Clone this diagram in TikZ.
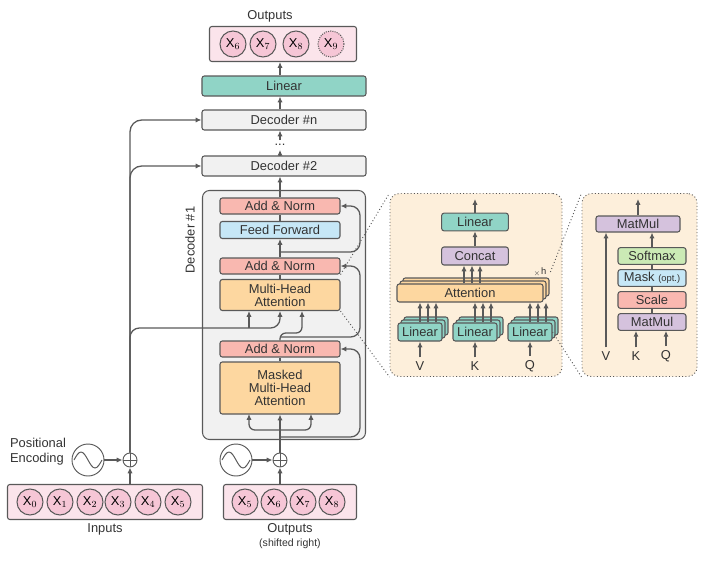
\documentclass[tikz,border=0pt]{standalone}
\usepackage{fontspec}
\setmainfont{Liberation Sans}
\usetikzlibrary{arrows.meta,positioning}
\definecolor{edge}{HTML}{595959}
\definecolor{cAdd}{HTML}{F9B8B0}
\definecolor{cFF}{HTML}{C6E7F6}
\definecolor{cAtt}{HTML}{FDD7A0}
\definecolor{cLin}{HTML}{90D4C6}
\definecolor{cCat}{HTML}{D5C2DD}
\definecolor{cSoft}{HTML}{CBEAB5}
\definecolor{cTok}{HTML}{FBE4EB}
\definecolor{cDot}{HTML}{F6C6D6}
\definecolor{cDec}{HTML}{F1F1F1}
\definecolor{cPan}{HTML}{FDEFDB}
\tikzset{
  blk/.style={draw=edge, line width=0.9pt, rounded corners=2pt, inner sep=0pt, align=center,
    font=\fontsize{11}{13}\selectfont, text=black!80},
  sub/.style={blk, minimum width=3.6cm, minimum height=0.48cm},
  top/.style={blk, fill=cDec, minimum width=4.92cm, minimum height=0.6cm},
  tok/.style={circle, draw=edge, line width=0.9pt, fill=cDot, minimum size=0.78cm, inner sep=0pt,
    font=\fontsize{11}{13}\selectfont},
  plusc/.style={circle, draw=edge, line width=0.8pt, fill=white, minimum size=0.42cm, inner sep=0pt},
  sinc/.style={circle, draw=edge, line width=0.8pt, fill=white, minimum size=0.96cm, inner sep=0pt},
  arr/.style={draw=edge, line width=1.1pt, -{Latex[length=5pt,width=4.5pt]}},
  ln/.style={draw=edge, line width=1.1pt},
  zoomln/.style={draw=edge, line width=0.8pt, dotted},
  lbl/.style={font=\fontsize{11}{13}\selectfont, text=black!80, align=center},
}
\begin{document}
\begin{tikzpicture}[x=0.03cm,y=-0.03cm]
\useasboundingbox (0,0) rectangle (703,560);

% top of the stack
\node[lbl] (outlbl) at (270,16) {Outputs};
\node[blk, fill=cTok, minimum width=4.41cm, minimum height=1.05cm] (outbox) at (283,44) {};
\foreach \i/\x in {6/233,7/263,8/296} \node[tok] (o\i) at (\x,44) {X$_{\i}$};
\node[tok, densely dotted] (o9) at (331,44) {X$_{9}$};
\node[top, fill=cLin] (lin) at (284,86) {Linear};
\node[top] (decN) at (284,120) {Decoder \#n};
\node[lbl] (dots) at (280,145) {...};
\node[top] (dec2) at (284,166) {Decoder \#2};

% decoder #1
\node[blk, fill=cDec, rounded corners=6pt, minimum width=4.89cm, minimum height=7.47cm] (dec1) at (284,315) {};
\node[lbl, rotate=90] (dec1lbl) at (190,240) {Decoder \#1};
\node[sub, fill=cAdd] (an1) at (280,206) {Add \& Norm};
\node[sub, fill=cFF, minimum height=0.51cm] (ff) at (280,230) {Feed Forward};
\node[sub, fill=cAdd] (an2) at (280,266) {Add \& Norm};
\node[sub, fill=cAtt, minimum height=0.93cm] (mha) at (280,295) {Multi-Head\\[-2pt]Attention};
\node[sub, fill=cAdd] (an3) at (280,349) {Add \& Norm};
\node[sub, fill=cAtt, minimum height=1.56cm] (mmha) at (280,388) {Masked\\[-2pt]Multi-Head\\[-2pt]Attention};

% inputs
\node[blk, fill=cTok, minimum width=5.85cm, minimum height=1.05cm] (inbox) at (105,502) {};
\foreach \i/\x in {0/30,1/60,2/90,3/118,4/148,5/178} \node[tok] (x\i) at (\x,502) {X$_{\i}$};
\node[lbl] (inlbl) at (105,529) {Inputs};
\node[blk, fill=cTok, minimum width=3.99cm, minimum height=1.05cm] (sbox) at (290,502) {};
\foreach \i/\x in {5/245,6/274,7/303,8/332} \node[tok] (s\i) at (\x,502) {X$_{\i}$};
\node[lbl] (slbl) at (290,529) {Outputs};
\node[lbl, font=\fontsize{9}{11}\selectfont] (sfl) at (290,544) {(shifted right)};

\node[lbl, align=left] (pelbl) at (38,452) {Positional\\Encoding};
\node[sinc] (sinL) at (88,460) {};
\node[plusc] (plusL) at (130,460) {};
\node[sinc] (sinR) at (236,460) {};
\node[plusc] (plusR) at (280,460) {};
\foreach \n in {sinL,sinR}
  \draw[edge, line width=0.8pt] ([xshift=-0.42cm]\n.center) sin ++(7,-8) cos ++(7,8) sin ++(7,8) cos ++(7,-8);
\foreach \n in {plusL,plusR}
  \draw[edge, line width=0.8pt] (\n.north) -- (\n.south) (\n.east) -- (\n.west);

% connectors, left part
\draw[arr] (inbox.north -| plusL) -- (plusL.south);
\draw[arr] (sbox.north -| plusR) -- (plusR.south);
\draw[arr] (sinL) -- (plusL);
\draw[arr] (sinR) -- (plusR);
\draw[arr, rounded corners=10pt] (plusL.north) |- (decN.west);
\draw[arr, rounded corners=10pt] (plusL.north) |- (dec2.west);
\coordinate (e1) at (249,328);
\coordinate (m1) at (249,311);
\coordinate (m3) at (302,311);
\draw[arr, rounded corners=8pt] (plusL.north) |- (280,328) -- (mha.south);
\draw[arr] (e1) -- (m1);

% inside decoder #1
\coordinate (jm) at (280,430);
\coordinate (jr) at (280,437);
\coordinate (mm1) at (249,414);
\coordinate (mm3) at (311,414);
\draw[ln] (plusR.north) -- (jr);
\draw[arr] (jr) -- (mmha.south);
\draw[arr, rounded corners=5pt] (jm) -| (mm1);
\draw[arr, rounded corners=5pt] (jm) -| (mm3);
\draw[arr, rounded corners=8pt] (jr) -- (360,437) |- (an3.east);
\draw[ln] (mmha.north) -- (an3.south);
\coordinate (j2) at (280,337);
\draw[arr, rounded corners=5pt] (an3.north) |- (302,333) -- (m3);
\draw[arr, rounded corners=8pt] (j2) -- (360,337) |- (an2.east);
\draw[ln] (mha.north) -- (an2.south);
\draw[arr] (an2.north) -- (ff.south);
\coordinate (j3) at (280,252);
\draw[arr, rounded corners=8pt] (j3) -- (360,252) |- (an1.east);
\draw[ln] (ff.north) -- (an1.south);
\draw[arr] (an1.north) -- (an1.north |- dec1.north) -- (dec2.south -| an1);
\draw[arr] (dec2.north -| dots) -- (dots.south);
\draw[arr] (dots.north) -- (decN.south -| dots);
\draw[arr] (decN.north -| dots) -- (lin.south -| dots);
\draw[arr] (lin.north -| dots) -- (outbox.south -| dots);

% multi-head attention panel
\node[draw=edge, dotted, line width=0.8pt, fill=cPan, rounded corners=8pt, minimum width=5.16cm,
  minimum height=5.49cm] (pmha) at (476,285) {};
\node[blk, fill=cLin, minimum width=2.0cm, minimum height=0.53cm] (plin) at (475,222) {Linear};
\node[blk, fill=cCat, minimum width=2.0cm, minimum height=0.54cm] (pcat) at (475,256) {Concat};
\foreach \d in {6,3} \node[blk, fill=cAtt, minimum width=4.38cm, minimum height=0.54cm] at (470+\d,293-\d) {};
\node[blk, fill=cAtt, minimum width=4.38cm, minimum height=0.54cm] (patt) at (470,293) {Attention};
\node[lbl, font=\fontsize{8}{9}\selectfont] (xh) at (540,272) {$_{\times}$h};
\foreach \nm/\x/\t in {lv/420/V,lk/475/K,lq/530/Q}{
  \foreach \d in {6,3} \node[blk, fill=cLin, minimum width=1.32cm, minimum height=0.54cm] at (\x+\d,332-\d) {};
  \node[blk, fill=cLin, minimum width=1.32cm, minimum height=0.54cm] (\nm) at (\x,332) {Linear};
  \node[lbl] (t\nm) at (\x,366) {\t};
  \draw[arr] (t\nm.north) -- (\nm.south);
  \foreach \d in {0,8,16} \draw[arr, line width=0.9pt] ([xshift=\d*0.03cm]\nm.north) -- ([xshift=\d*0.03cm]\nm.north |- patt.south);
}
\foreach \d in {-6,2,10} \draw[arr, line width=0.9pt] ([xshift=\d*0.03cm]patt.north) -- ([xshift=\d*0.03cm]patt.north |- pcat.south);
\draw[arr] (pcat) -- (plin);
\coordinate (plout) at (475,199);
\draw[arr] (plin) -- (plout);

% scaled dot-product panel
\node[draw=edge, dotted, line width=0.8pt, fill=cPan, rounded corners=8pt, minimum width=3.45cm,
  minimum height=5.49cm] (psdp) at (639.5,285) {};
\node[blk, fill=cCat, minimum width=2.52cm, minimum height=0.48cm] (mm2) at (638,224) {MatMul};
\node[blk, fill=cSoft, minimum width=2.04cm, minimum height=0.5cm] (soft) at (652,256) {Softmax};
\node[blk, fill=cFF, minimum width=2.04cm, minimum height=0.5cm] (mask) at (652,278) {Mask {\fontsize{8}{9}\selectfont (opt.)}};
\node[blk, fill=cAdd, minimum width=2.04cm, minimum height=0.5cm] (scale) at (652,300) {Scale};
\node[blk, fill=cCat, minimum width=2.04cm, minimum height=0.5cm] (mmb) at (652,322) {MatMul};
\node[lbl] (tv) at (606,356) {V};
\node[lbl] (tk) at (636,356) {K};
\node[lbl] (tq) at (666,356) {Q};
\draw[arr] (tv.north) -- (tv.north |- mm2.south);
\draw[arr] (tk.north) -- (tk.north |- mmb.south);
\draw[arr] (tq.north) -- (tq.north |- mmb.south);
\draw[ln] (mmb) -- (scale) (scale) -- (mask) (mask) -- (soft);
\draw[arr] (soft.north) -- (soft.north |- mm2.south);
\coordinate (sout) at (638,199);
\draw[arr] (mm2) -- (sout);

% zoom lines
\draw[zoomln] (an2.south east) -- (pmha.north west);
\draw[zoomln] (mha.south east) -- (pmha.south west);
\draw[zoomln] (xh.east) -- (psdp.north west);
\draw[zoomln] (lq.east) -- (psdp.south west);
\end{tikzpicture}
\end{document}
